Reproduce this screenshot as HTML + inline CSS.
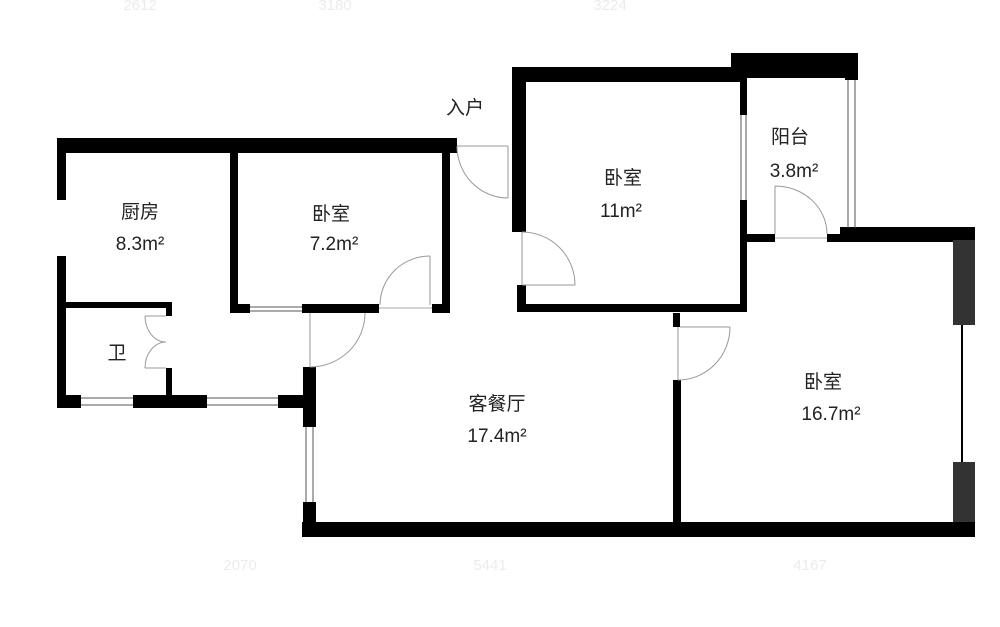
<!DOCTYPE html>
<html><head><meta charset="utf-8"><style>
html,body{margin:0;padding:0;background:#fff;}
svg{display:block}
text{font-family:"Liberation Sans","Noto Sans CJK SC",sans-serif;fill:#222;}
</style></head><body>
<svg width="1000" height="627" viewBox="0 0 1000 627" xmlns="http://www.w3.org/2000/svg">
<g font-size="15" fill="#ececec" text-anchor="middle" style="fill:#ececec">
<text x="140" y="10" style="fill:#ececec">2612</text>
<text x="335" y="10" style="fill:#ececec">3180</text>
<text x="610" y="10" style="fill:#ececec">3224</text>
<text x="240" y="570" style="fill:#ececec">2070</text>
<text x="490" y="570" style="fill:#ececec">5441</text>
<text x="810" y="570" style="fill:#ececec">4167</text>
</g>
<g fill="#000">
<!-- top left wall -->
<rect x="57" y="138" width="400" height="15"/>
<rect x="57" y="138" width="9" height="62"/>
<rect x="57" y="256" width="9" height="152"/>
<!-- bedroom 7.2 -->
<rect x="230" y="150" width="8" height="163"/>
<rect x="442" y="150" width="8" height="163"/>
<rect x="230" y="304" width="20" height="9"/>
<rect x="302" y="304" width="77" height="9"/>
<rect x="432" y="304" width="18" height="9"/>
<!-- bath -->
<rect x="66" y="302" width="106" height="6"/>
<rect x="166" y="302" width="6" height="14"/>
<rect x="166" y="368" width="6" height="28"/>
<!-- lower left wall -->
<rect x="57" y="395" width="24" height="13"/>
<rect x="133" y="395" width="74" height="13"/>
<rect x="278" y="395" width="38" height="13"/>
<!-- living left -->
<rect x="303" y="367" width="13" height="60"/>
<rect x="303" y="502" width="13" height="35"/>
<!-- bottom -->
<rect x="302" y="522" width="673" height="15"/>
<rect x="673" y="380" width="8" height="143"/>
<rect x="673" y="313" width="7" height="14"/>
<!-- bedroom 11 -->
<rect x="512" y="67" width="234" height="15"/>
<rect x="512" y="67" width="14" height="165"/>
<rect x="517" y="285" width="9" height="27"/>
<rect x="517" y="304" width="229" height="8"/>
<rect x="740" y="67" width="7" height="48"/>
<rect x="740" y="200" width="7" height="112"/>
<!-- balcony -->
<rect x="731" y="53" width="127" height="25"/>
<rect x="845" y="53" width="13" height="27"/>
<rect x="745" y="234" width="30" height="8"/>
<rect x="827" y="234" width="20" height="8"/>
<rect x="840" y="227" width="135" height="15"/>
</g>
<g fill="#333">
<rect x="953" y="240" width="22" height="85"/>
<rect x="953" y="462" width="22" height="60"/>
</g>
<g stroke="#555" stroke-width="1" fill="none">
<!-- windows -->
<line x1="962" y1="325" x2="962" y2="462" stroke="#000" stroke-width="2"/>
<line x1="81" y1="398" x2="133" y2="398"/><line x1="81" y1="405" x2="133" y2="405"/>
<line x1="207" y1="398" x2="278" y2="398"/><line x1="207" y1="405" x2="278" y2="405"/>
<line x1="306" y1="427" x2="306" y2="502"/><line x1="313" y1="427" x2="313" y2="502"/>
<line x1="741" y1="115" x2="741" y2="200"/><line x1="746" y1="115" x2="746" y2="200"/>
<line x1="848" y1="80" x2="848" y2="228"/><line x1="855" y1="80" x2="855" y2="228"/>
<line x1="250" y1="307" x2="302" y2="307"/><line x1="250" y1="311" x2="302" y2="311"/>
<line x1="379" y1="308" x2="432" y2="308" stroke="#aaa"/>
<line x1="775" y1="238" x2="827" y2="238" stroke="#aaa"/>
</g>
<g stroke="#999" stroke-width="1" fill="none">
<!-- entrance door -->
<line x1="457" y1="146" x2="508" y2="146"/>
<line x1="508" y1="146" x2="508" y2="198"/>
<path d="M457 146 A51 52 0 0 0 508 198"/>
<!-- bedroom 7.2 door -->
<line x1="430" y1="256" x2="430" y2="305"/>
<path d="M380 305 A50 49 0 0 1 430 256"/>
<!-- living door -->
<line x1="310" y1="313" x2="310" y2="367"/>
<path d="M365 313 A55 54 0 0 1 310 367"/>
<!-- bath double door -->
<line x1="145" y1="316" x2="166" y2="316"/>
<path d="M145 316 A21 26 0 0 0 166 342"/>
<line x1="145" y1="368" x2="166" y2="368"/>
<path d="M145 368 A21 26 0 0 1 166 342"/>
<!-- bedroom 11 door -->
<line x1="522" y1="285" x2="575" y2="285"/>
<line x1="522" y1="232" x2="522" y2="285"/>
<path d="M522 232 A53 53 0 0 1 575 285"/>
<!-- balcony door -->
<line x1="775" y1="186" x2="775" y2="234"/>
<path d="M775 186 A52 48 0 0 1 827 234"/>
<!-- 16.7 door -->
<line x1="680" y1="327" x2="730" y2="327"/>
<line x1="678" y1="327" x2="678" y2="380"/>
<path d="M730 327 A52 53 0 0 1 678 380"/>
</g>
<g font-size="19" text-anchor="middle">
<text x="465" y="114">入户</text>
<text x="140" y="218">厨房</text>
<text x="140" y="250">8.3m²</text>
<text x="331" y="220">卧室</text>
<text x="334" y="250">7.2m²</text>
<text x="117" y="359">卫</text>
<text x="623" y="184">卧室</text>
<text x="621" y="217">11m²</text>
<text x="790" y="143">阳台</text>
<text x="794" y="177">3.8m²</text>
<text x="497" y="410">客餐厅</text>
<text x="497" y="442">17.4m²</text>
<text x="823" y="388">卧室</text>
<text x="831" y="420">16.7m²</text>
</g>
</svg>
</body></html>
